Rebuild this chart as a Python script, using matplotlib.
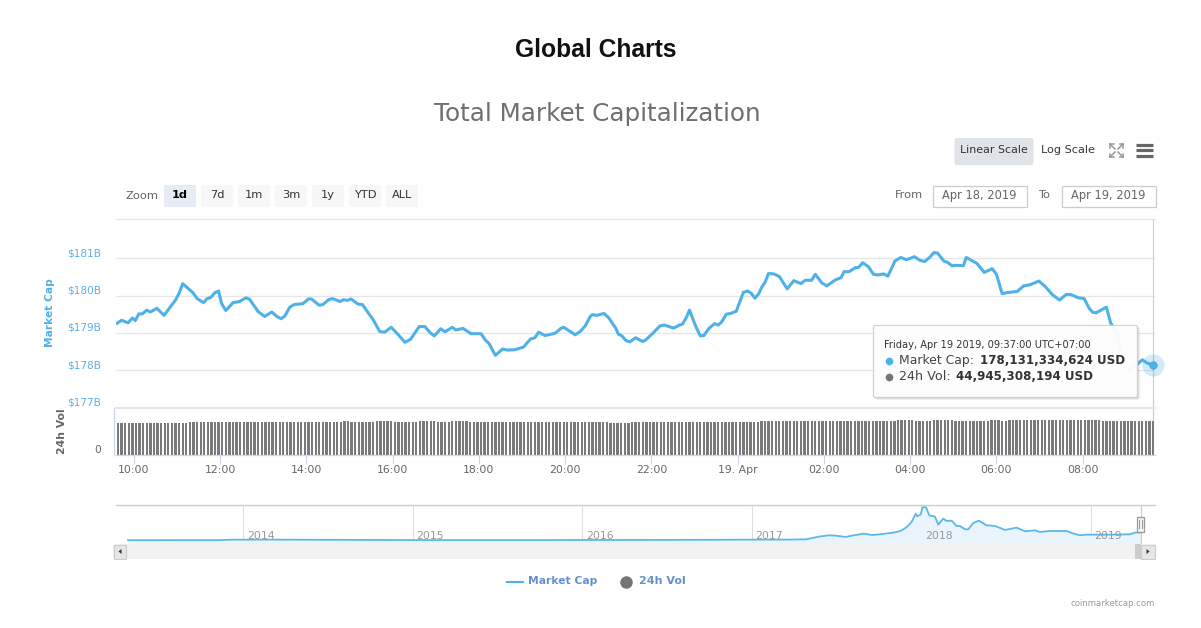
import numpy as np
import matplotlib
matplotlib.use("Agg")
import matplotlib.pyplot as plt
from matplotlib import font_manager as fm
from matplotlib.patches import Rectangle, FancyBboxPatch

# ---------- data ----------
minutes = [0,6,15,21,25,30,35,41,46,55,65,81,86,91,105,111,120,125,130,136,141,145,151,161,170,179,184,196,205,215,222,228,233,240,246,258,266,270,281,286,294,299,310,315,320,325,335,341,356,365,372,381,390,400,408,420,428,435,441,450,456,466,471,481,492,506,512,517,526,536,543,553,565,575,581,586,595,609,617,621,630,637,644,651,658,661,667,677,683,693,697,702,708,713,721,731,735,746,755,761,774,782,786,791,796,804,811,816,823,831,836,841,847,853,861,867,871,877,882,887,892,897,901,906,913,921,932,941,951,957,966,971,980,987,999,1007,1011,1018,1027,1031,1037,1045,1052,1058,1066,1072,1082,1090,1098,1109,1116,1123,1130,1136,1141,1150,1155,1161,1167,1177,1181,1196,1206,1217,1223,1231,1238,1252,1261,1270,1282,1291,1301,1311,1320,1326,1337,1345,1352,1357,1362,1376,1382,1389,1396,1407,1414,1426,1433,1441]
market_cap = [179.26,179.34,179.27,179.40,179.33,179.51,179.51,179.61,179.56,179.66,179.47,179.88,180.06,180.32,180.08,179.92,179.81,179.92,179.95,180.08,180.12,179.79,179.60,179.81,179.84,179.94,179.90,179.57,179.44,179.56,179.44,179.38,179.45,179.69,179.76,179.78,179.91,179.91,179.74,179.76,179.89,179.92,179.84,179.89,179.87,179.91,179.77,179.76,179.35,179.04,179.02,179.15,178.97,178.75,178.83,179.17,179.17,179.01,178.92,179.11,179.03,179.15,179.08,179.12,178.98,178.98,178.81,178.72,178.40,178.57,178.54,178.55,178.62,178.84,178.87,179.02,178.93,178.99,179.12,179.15,179.04,178.95,179.04,179.19,179.44,179.49,179.47,179.52,179.42,179.14,178.97,178.92,178.79,178.76,178.87,178.77,178.81,179.01,179.19,179.21,179.13,179.21,179.23,179.39,179.61,179.21,178.92,178.93,179.12,179.25,179.21,179.30,179.50,179.52,179.58,179.88,180.09,180.12,180.06,179.93,180.04,180.24,180.35,180.59,180.58,180.51,180.18,180.40,180.32,180.41,180.41,180.57,180.34,180.26,180.42,180.48,180.64,180.64,180.75,180.75,180.88,180.77,180.57,180.55,180.58,180.52,180.93,181.02,180.96,181.04,180.95,180.91,181.02,181.15,181.14,180.92,180.89,180.80,180.81,180.80,181.02,180.86,180.62,180.72,180.57,180.05,180.08,180.11,180.26,180.29,180.39,180.24,180.02,179.88,180.03,180.03,179.94,179.92,179.66,179.55,179.54,179.69,179.26,179.08,178.55,177.99,178.08,178.28,178.19,178.13]

vol_levels = [42.7,43.6,44.9,43.6,44.9,43.6,44.9,43.6,44.9,43.8,42.3,43.8,43.0,43.8,44.9,46.2,44.9,46.2,44.9,46.2,44.9,46.2,44.9]
vol_counts = [20,43,2,7,5,7,5,4,5,39,6,6,1,29,38,5,5,6,10,3,2,26,15]

nav_years = [2013.32,2013.85,2013.93,2014.1,2014.4,2015.0,2015.8,2016.0,2016.5,2017.0,2017.2,2017.32,2017.395,2017.454,2017.494,2017.553,2017.602,2017.661,2017.71,2017.756,2017.835,2017.878,2017.913,2017.943,2017.967,2017.976,2017.996,2018.008,2018.028,2018.047,2018.081,2018.1,2018.13,2018.149,2018.179,2018.208,2018.228,2018.258,2018.277,2018.307,2018.34,2018.385,2018.435,2018.494,2018.562,2018.612,2018.671,2018.7,2018.759,2018.857,2018.887,2018.936,2018.975,2019.133,2019.231,2019.261,2019.3]
nav_values = [3,4,15,18,14,6,6,8,10,16,18,25,92,126,118,84,126,168,134,151,193,235,328,462,672,605,647,832,832,630,597,395,546,487,496,361,361,277,277,437,496,378,361,261,319,227,252,210,235,235,185,126,143,143,151,193,202]

tick_minutes = [23,143,263,383,503,623,743,863,983,1103,1223,1343]
tick_labels = ["10:00","12:00","14:00","16:00","18:00","20:00","22:00","19. Apr","02:00","04:00","06:00","08:00"]
cap_ticks = [177,178,179,180,181]
cap_labels = ["$177B","$178B","$179B","$180B","$181B"]
nav_ticks = [2014,2015,2016,2017,2018,2019]

BLUE = "#4FB1E9"
W, H = 1201, 628
fig = plt.figure(figsize=(W/100, H/100), dpi=100, facecolor="white")
plt.rcParams["font.family"] = "DejaVu Sans"

def box(l, t, r, b):
    return [l/W, 1-b/H, (r-l)/W, (b-t)/H]

XLIM = (-1.8, 1443.6)

# ---------- main panel ----------
ax = fig.add_axes(box(116, 219, 1155, 408), zorder=2)
ax.set_xlim(*XLIM); ax.set_ylim(176.99, 182.05)
ax.set_facecolor("none")
ax.axvline(minutes[-1], color="#cccccc", lw=0.8, zorder=1)
ax.plot(minutes, market_cap, color=BLUE, lw=2.2, solid_joinstyle="round", zorder=3)
ax.plot(minutes[-1], market_cap[-1], "o", ms=16, color=BLUE, alpha=0.25, mew=0, zorder=4, clip_on=False)
ax.plot(minutes[-1], market_cap[-1], "o", ms=5.5, color=BLUE, mec="#2f8fc9", mew=0.3, zorder=5, clip_on=False)
ax.set_xticks([])
ax.set_yticks(cap_ticks, cap_labels)
ax.tick_params(axis="y", length=0, pad=10.5, labelcolor="#5CB0EC", labelsize=7.6)
ax.grid(axis="y", color="#e6e6e6", lw=0.9)
ax.set_axisbelow(True)
for s in ["left", "right"]:
    ax.spines[s].set_visible(False)
ax.spines["top"].set_color("#e6e6e6"); ax.spines["top"].set_linewidth(0.9)
ax.spines["bottom"].set_color("#e6e6e6"); ax.spines["bottom"].set_linewidth(1.5)
shift = matplotlib.transforms.ScaledTranslation(0, 6/100, fig.dpi_scale_trans)
for lab in ax.get_yticklabels():
    lab.set_transform(lab.get_transform() + shift)

# ---------- volume panel ----------
vol = np.repeat(vol_levels, vol_counts)
vol_x = 1 + 5*np.arange(len(vol))
av = fig.add_axes(box(116, 408, 1155, 455), zorder=1)
av.set_xlim(*XLIM); av.set_ylim(0, 62.1)
av.axvline(minutes[-1], color="#cccccc", lw=0.8, zorder=1)
av.bar(vol_x, vol, width=3.2, color="#7a7a7a", zorder=2)
av.set_xticks(tick_minutes, tick_labels)
av.set_yticks([0], ["0"])
av.tick_params(axis="x", length=6.5, width=0.8, color="#ccd6eb", pad=0.8, labelcolor="#666666", labelsize=7.8)
av.tick_params(axis="y", length=0, pad=9, labelcolor="#666666", labelsize=7.6)
for s in ["top", "right"]:
    av.spines[s].set_visible(False)
av.spines["bottom"].set_color("#ccd6eb"); av.spines["bottom"].set_linewidth(0.9)
av.spines["left"].set_color("#ccd6eb"); av.spines["left"].set_linewidth(0.9)
av.spines["left"].set_position(("outward", 1.8))
for lab in av.get_yticklabels():
    lab.set_transform(lab.get_transform() + matplotlib.transforms.ScaledTranslation(0, 6/100, fig.dpi_scale_trans))

# ---------- navigator ----------
an = fig.add_axes(box(116, 504.5, 1155, 544), zorder=1)
an.set_xlim(2013.249, 2019.379); an.set_ylim(-93, 902)
an.fill_between(nav_years, nav_values, -93, color="#EAF4FD", lw=0, zorder=1)
an.plot(nav_years, nav_values, color="#5DB7EC", lw=1.3, zorder=2)
an.set_xticks(nav_ticks); an.set_yticks([])
an.tick_params(axis="x", length=0, labelbottom=False)
an.grid(axis="x", color="#e0e0e0", lw=0.8)
an.set_axisbelow(True)
for s in ["left", "right", "bottom"]:
    an.spines[s].set_visible(False)
an.spines["top"].set_color("#cccccc"); an.spines["top"].set_linewidth(1.0)
for yr in nav_ticks:
    an.annotate(str(yr), (yr, -93), xytext=(2.8, 2.2), textcoords="offset points",
                color="#999999", fontsize=7.8, ha="left", va="bottom", zorder=3)

# ---------- page overlay in pixel coordinates ----------
ui = fig.add_axes([0, 0, 1, 1], zorder=10)
ui.set_xlim(0, W); ui.set_ylim(H, 0); ui.axis("off"); ui.patch.set_alpha(0)
rend = fig.canvas.get_renderer()

def T(x, y, s, width=None, size=8, **kw):
    kw.setdefault("va", "center"); kw.setdefault("ha", "center")
    t = ui.text(x, y, s, fontsize=size, **kw)
    if width:
        e = t.get_window_extent(rend)
        t.set_fontsize(size*width/max(e.width, e.height))
    return t

def rbox(l, t, r, b, fc, ec="none", lw=0, rad=2, z=1, alpha=None):
    p = FancyBboxPatch((l+rad, t+rad), r-l-2*rad, b-t-2*rad, boxstyle=f"round,pad={rad},rounding_size={rad}",
                       fc=fc, ec=ec, lw=lw, zorder=z, alpha=alpha)
    ui.add_patch(p)

# the regular-width bold Liberation Sans file, not the Narrow cut
bold_files = [f.fname for f in fm.fontManager.ttflist
              if f.name == "Liberation Sans" and f.weight in (700, "bold") and f.style == "normal"
              and "narrow" not in f.fname.lower()]
title_font = fm.FontProperties(fname=bold_files[0]) if bold_files else fm.FontProperties(family="Liberation Sans", weight="bold")
T(596, 50, "Global Charts", width=162, size=17, fontproperties=title_font, color="#111111")
T(597, 114, "Total Market Capitalization", width=327, size=17, color="#6f6f6f")

# scale buttons and menu
rbox(954.5, 138, 1033.5, 165, "#E0E3E8")
T(993.5, 150, "Linear Scale", width=68, color="#333333")
T(1068, 150, "Log Scale", width=54, color="#333333")
for y in (144.5, 150, 155.5):
    ui.plot([1135.5, 1152.5], [y, y], color="#666666", lw=2.3, solid_capstyle="butt")
for cx, cy, dx, dy in [(1110, 144, 1, 1), (1123, 144, -1, 1), (1110, 157, 1, -1), (1123, 157, -1, -1)]:
    ui.plot([cx, cx+5*dx], [cy, cy+5*dy], color="#999999", lw=1.1)
    ui.plot([cx, cx+3.5*dx], [cy, cy], color="#999999", lw=1.1)
    ui.plot([cx, cx], [cy, cy+3.5*dy], color="#999999", lw=1.1)

# range selector
T(126, 196, "Zoom", width=33, ha="left", color="#666666")
btns = [("1d",164,196),("7d",201,233),("1m",238,270),("3m",275,307),("1y",312,344),("YTD",349,381),("ALL",386,418)]
for i, (s, l, r) in enumerate(btns):
    rbox(l, 185, r, 207, "#E6EBF5" if i == 0 else "#F7F7F7")
    T((l+r)/2, 195.5, s, size=8.2, color="#000000" if i == 0 else "#333333", weight="bold" if i == 0 else "normal")
T(895, 195, "From", size=8.2, ha="left", color="#666666")
T(1038, 195, "To", size=8.2, ha="left", color="#666666")
for l, r, s in [(932.5, 1026.5, "Apr 18, 2019"), (1061.5, 1155.5, "Apr 19, 2019")]:
    ui.add_patch(Rectangle((l, 185.5), r-l, 21, fc="white", ec="#cccccc", lw=0.9))
    T((l+r)/2, 195, s, size=8.3, color="#666666")

# axis titles
T(50, 313, "Market Cap", width=68, rotation=90, weight="bold", color=BLUE)
T(62, 431, "24h Vol", width=46, rotation=90, weight="bold", color="#666666")

# tooltip
rbox(875, 327, 1139.5, 399.5, "#000000", rad=2, z=5, alpha=0.12)
rbox(873.5, 325.5, 1137.5, 397.5, "white", ec="#cfcfcf", lw=0.9, rad=2, z=6, alpha=0.96)
T(884, 345.5, "Friday, Apr 19 2019, 09:37:00 UTC+07:00", width=207, ha="left", color="#333333", zorder=7)
ui.plot(889, 361, "o", ms=5.5, color=BLUE, mew=0, zorder=7)
T(899, 360.5, "Market Cap:", width=75, ha="left", color="#444444", zorder=7)
T(979.5, 360.5, "178,131,334,624 USD", width=145, ha="left", weight="bold", color="#333333", zorder=7)
ui.plot(889, 377, "o", ms=5.5, color="#757575", mew=0, zorder=7)
T(899, 376.5, "24h Vol:", width=52, ha="left", color="#444444", zorder=7)
T(956, 376.5, "44,945,308,194 USD", width=137, ha="left", weight="bold", color="#333333", zorder=7)

# navigator handle and scrollbar
ui.plot([1140.5, 1140.5], [504.5, 544], color="#cccccc", lw=0.8, zorder=2)
ui.add_patch(Rectangle((1136.5, 516.5), 7.5, 15, fc="#f2f2f2", ec="#999999", lw=0.9, zorder=3))
ui.plot([1139, 1139], [520, 528], color="#999999", lw=0.7, zorder=4)
ui.plot([1141.5, 1141.5], [520, 528], color="#999999", lw=0.7, zorder=4)
ui.add_patch(Rectangle((113, 544), 1042, 15, fc="#f2f2f2", ec="none", zorder=2))
ui.add_patch(Rectangle((1134.5, 544), 6, 15, fc="#cccccc", ec="none", zorder=2))
ui.add_patch(Rectangle((113.5, 544.5), 12.5, 14, fc="#e6e6e6", ec="#cccccc", lw=0.8, zorder=3))
ui.add_patch(Rectangle((1141, 544.5), 14, 14, fc="#e6e6e6", ec="#cccccc", lw=0.8, zorder=3))
ui.fill([121.5, 121.5, 118.5], [549, 554, 551.5], color="#333333", zorder=4, lw=0)
ui.fill([1146.5, 1146.5, 1149.5], [549, 554, 551.5], color="#333333", zorder=4, lw=0)

# legend and credit
ui.plot([507, 523], [582, 582], color=BLUE, lw=1.5)
T(528, 581.5, "Market Cap", width=69, ha="left", weight="bold", color="#6690CC")
ui.plot(625.5, 581.5, "o", ms=9, color="#757575", mew=0)
T(639, 581.5, "24h Vol", width=47, ha="left", weight="bold", color="#6690CC")
T(1155, 604, "coinmarketcap.com", width=85, ha="right", color="#999999")

fig.savefig("out.png", dpi=100, facecolor="white")
